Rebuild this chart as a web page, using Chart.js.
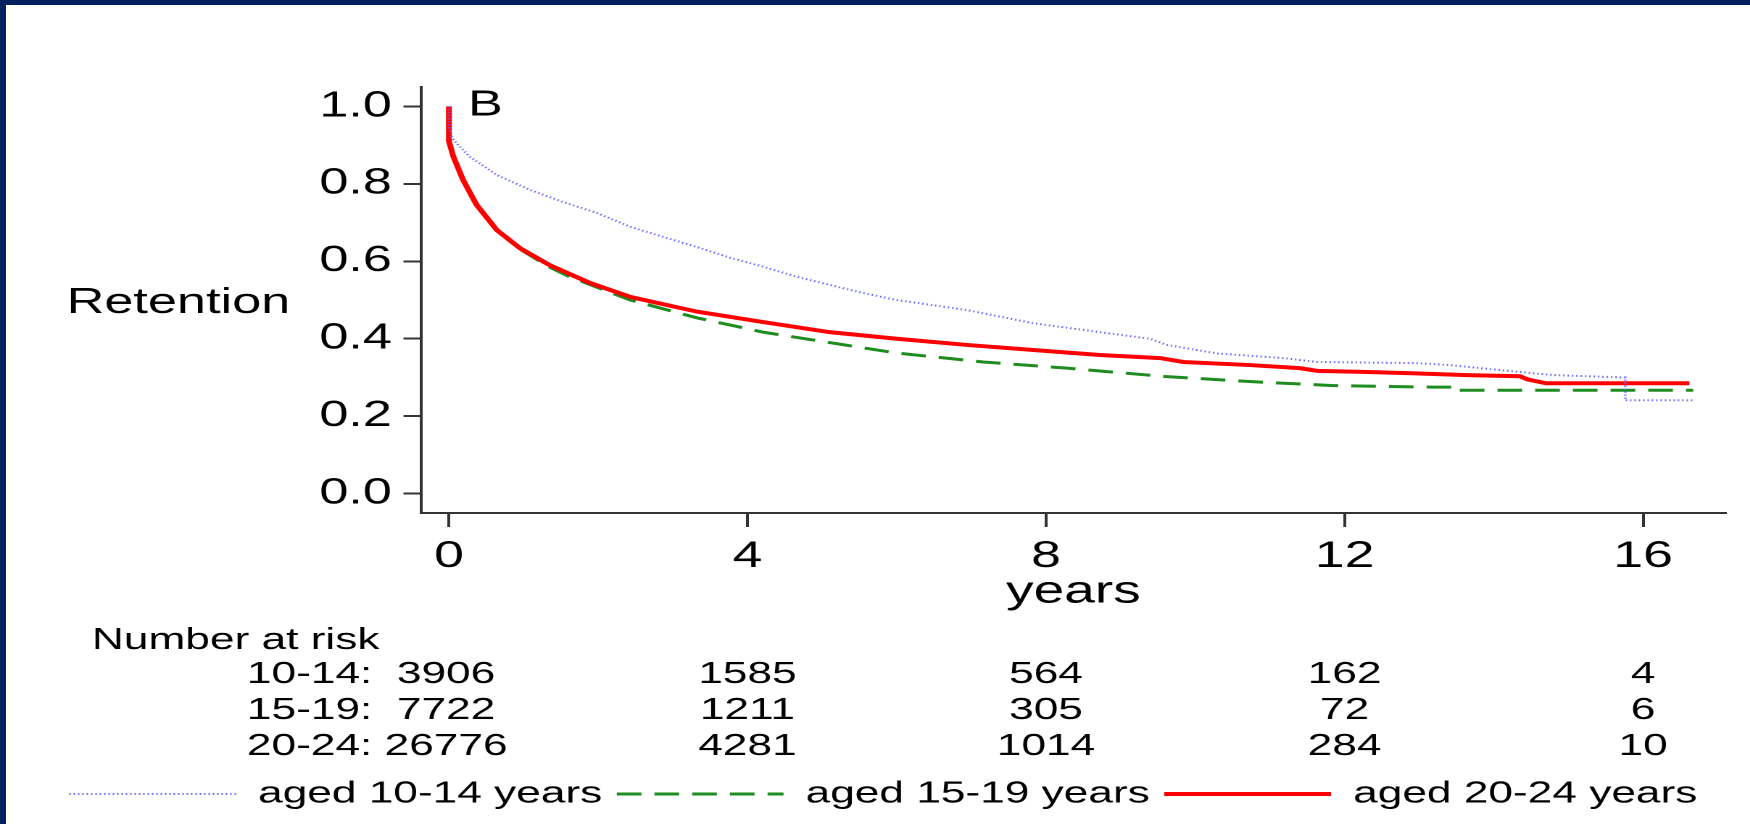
<!DOCTYPE html>
<html>
<head>
<meta charset="utf-8">
<title>Retention by age group</title>
<script src="https://cdn.jsdelivr.net/npm/chart.js@4.4.1/dist/chart.umd.min.js"></script>
<style>
  html, body { margin: 0; padding: 0; background: #fff; }
  #wrap { position: relative; width: 1750px; height: 824px; overflow: hidden; background: #fff; }
  /* the source figure is stretched sideways, so the canvas is too */
  #retentionChart { position: absolute; left: 0; top: 0; transform-origin: 0 0; transform: scaleX(1.4499); }
  .edge { position: absolute; background: #002060; }
</style>
</head>
<body>
<div id="wrap">
  <canvas id="retentionChart" width="1207" height="824"></canvas>
  <div class="edge" style="left:0;top:0;width:1750px;height:5px"></div>
  <div class="edge" style="left:0;top:0;width:6px;height:824px"></div>
</div>
<script>
// Kaplan-Meier retention curves
const years1014 = [0, 0, 0.04, 0.1, 0.28, 0.64, 1.09, 1.53, 1.98, 2.43, 2.87, 3.32, 3.77, 4.21, 4.66, 5.1, 5.55, 6.0, 6.94, 7.83, 8.72, 9.39, 9.62, 10.29, 11.18, 11.63, 12.97, 13.41, 14.08, 14.8, 15.76, 15.76, 16.66];
const ret1014   = [1.0, 0.95, 0.92, 0.905, 0.87, 0.823, 0.784, 0.753, 0.725, 0.689, 0.663, 0.637, 0.609, 0.586, 0.56, 0.539, 0.518, 0.50, 0.474, 0.44, 0.417, 0.40, 0.384, 0.362, 0.35, 0.34, 0.337, 0.332, 0.319, 0.306, 0.30, 0.241, 0.241];

const years1519 = [0, 0, 0.06, 0.19, 0.37, 0.64, 0.95, 1.35, 1.62, 2.43, 3.32, 4.21, 5.1, 6.0, 7.16, 8.28, 9.62, 10.96, 11.85, 13.19, 13.44, 13.44, 16.67];
const ret1519   = [1.0, 0.91, 0.87, 0.81, 0.746, 0.68, 0.632, 0.585, 0.56, 0.50, 0.454, 0.417, 0.39, 0.363, 0.34, 0.324, 0.302, 0.287, 0.279, 0.275, 0.275, 0.267, 0.267];

const years2024 = [0, 0, 0.06, 0.19, 0.37, 0.64, 0.95, 1.35, 1.89, 2.43, 3.32, 4.21, 5.1, 6.0, 6.94, 7.83, 8.72, 9.53, 9.84, 10.73, 11.4, 11.63, 12.3, 12.9, 13.64, 14.35, 14.45, 14.7, 16.62];
const ret2024   = [1.0, 0.91, 0.87, 0.81, 0.746, 0.681, 0.634, 0.59, 0.544, 0.508, 0.47, 0.443, 0.417, 0.40, 0.384, 0.371, 0.358, 0.35, 0.34, 0.332, 0.324, 0.317, 0.314, 0.311, 0.306, 0.303, 0.295, 0.285, 0.285];

// number at risk table
const ageGroups = ['10-14', '15-19', '20-24'];
const riskTimes = [0, 4, 8, 12, 16];
const risk1014 = [3906, 1585, 564, 162, 4];
const risk1519 = [7722, 1211, 305, 72, 6];
const risk2024 = [26776, 4281, 1014, 284, 10];

const xTicks = [0, 4, 8, 12, 16];
const yTicks = [0, 0.2, 0.4, 0.6, 0.8, 1.0];

const FONT = "'Liberation Sans', Arial, sans-serif";
const INK = '#000';

const toPoints = (xs, ys) => xs.map((v, i) => ({ x: v, y: ys[i] }));

// horizontal y title, panel letter and the at-risk table
const extraText = {
    id: 'extraText',
    afterDraw(chart) {
        const { ctx, scales: { x, y } } = chart;
        ctx.save();
        ctx.fillStyle = INK;
        ctx.textBaseline = 'alphabetic';
        ctx.textAlign = 'left';
        ctx.font = '36px ' + FONT;
        ctx.fillText('Retention', 46, 313);
        ctx.fillText('B', x.getPixelForValue(0.255), y.getPixelForValue(0.976));

        ctx.font = '30.5px ' + FONT;
        ctx.fillText('Number at risk', 63.4, 649);
        const rows = [risk1014, risk1519, risk2024];
        rows.forEach((counts, r) => {
            const base = 683 + r * 36;
            ctx.textAlign = 'left';
            ctx.fillText(ageGroups[r] + ':' + String(counts[0]).padStart(6, ' '), 170.3, base);
            ctx.textAlign = 'center';
            for (let c = 1; c < riskTimes.length; c++) {
                ctx.fillText(String(counts[c]), x.getPixelForValue(riskTimes[c]), base);
            }
        });
        ctx.restore();
    }
};

// legend samples keep the dataset's dash pattern
const legendLabels = (chart) => {
    const items = Chart.defaults.plugins.legend.labels.generateLabels(chart);
    items.forEach(item => {
        const ds = chart.data.datasets[item.datasetIndex];
        item.lineDash = ds.borderDash || [];
        item.lineWidth = ds.borderWidth;
        item.strokeStyle = ds.borderColor;
    });
    return items;
};

const canvas = document.getElementById('retentionChart');
new Chart(canvas, {
    type: 'line',
    data: {
        datasets: [{
            label: 'aged 10-14 years',
            data: toPoints(years1014, ret1014),
            borderColor: '#6a6aff',
            backgroundColor: '#6a6aff',
            borderWidth: 2,
            borderDash: [1, 2],
            order: 0
        }, {
            label: 'aged 15-19 years',
            data: toPoints(years1519, ret1519),
            borderColor: '#1e8c1e',
            backgroundColor: '#1e8c1e',
            borderWidth: 3,
            borderDash: [17, 9],
            order: 2
        }, {
            label: 'aged 20-24 years',
            data: toPoints(years2024, ret2024),
            borderColor: '#ff0000',
            backgroundColor: '#ff0000',
            borderWidth: 4,
            order: 1
        }]
    },
    options: {
        responsive: false,
        animation: false,
        devicePixelRatio: 2,
        layout: { padding: { left: 28, right: 16.6, top: 87, bottom: 4.75 } },
        elements: {
            point: { radius: 0, hoverRadius: 0, pointStyle: 'line' },
            line: { tension: 0, fill: false }
        },
        scales: {
            x: {
                type: 'linear',
                min: -0.375,
                max: 17.11,
                afterBuildTicks: (scale) => { scale.ticks = xTicks.map(v => ({ value: v })); },
                afterFit: (scale) => { scale.height = 255.75; },
                ticks: {
                    color: INK,
                    padding: 11.5,
                    maxRotation: 0,
                    font: { family: FONT, size: 37, lineHeight: 1 }
                },
                grid: { drawOnChartArea: false, drawTicks: true, tickLength: 14, tickWidth: 2, tickColor: '#333' },
                border: { display: true, color: '#333', width: 2 },
                title: {
                    display: true,
                    text: 'years',
                    color: INK,
                    font: { family: FONT, size: 38, lineHeight: 1 },
                    padding: { top: 0, bottom: 157.75 }
                }
            },
            y: {
                type: 'linear',
                min: -0.05,
                max: 1.05,
                afterBuildTicks: (scale) => { scale.ticks = yTicks.map(v => ({ value: v })); },
                afterFit: (scale) => { scale.width = 262.3; },
                ticks: {
                    color: INK,
                    padding: 8,
                    font: { family: FONT, size: 36 },
                    callback: (v) => Number(v).toFixed(1)
                },
                grid: { drawOnChartArea: false, drawTicks: true, tickLength: 12, tickWidth: 2, tickColor: '#333' },
                border: { display: true, color: '#333', width: 2 }
            }
        },
        plugins: {
            legend: {
                position: 'bottom',
                labels: {
                    color: INK,
                    font: { family: FONT, size: 30.5 },
                    padding: 10,
                    usePointStyle: true,
                    pointStyleWidth: 115,
                    generateLabels: legendLabels,
                    sort: (a, b) => a.datasetIndex - b.datasetIndex
                }
            },
            tooltip: { enabled: false }
        }
    },
    plugins: [extraText]
});
</script>
</body>
</html>
